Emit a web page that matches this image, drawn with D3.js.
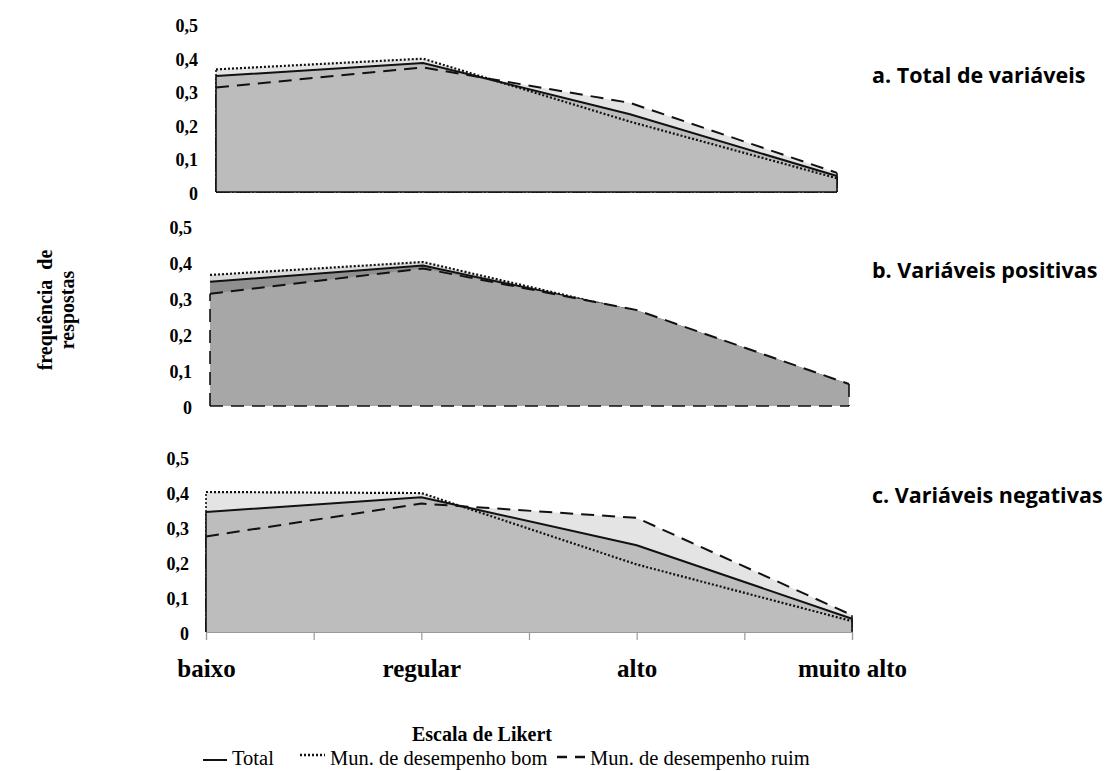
<!DOCTYPE html>
<html>
<head>
<meta charset="utf-8">
<script src="https://cdn.jsdelivr.net/npm/d3@7"></script>
<style>
  body { margin: 0; background: #fff; }
  svg { display: block; }
  .tick-label { font-family: "Liberation Serif", serif; font-weight: bold; font-size: 18px; fill: #000; }
  .cat-label { font-family: "Liberation Serif", serif; font-weight: bold; font-size: 25px; fill: #000; }
  .panel-title { font-family: "Open Sans", sans-serif; font-weight: bold; font-size: 21.5px; fill: #000; }
  .axis-title { font-family: "Liberation Serif", serif; font-weight: bold; font-size: 20px; fill: #000; }
  .legend-text { font-family: "Liberation Serif", serif; font-size: 20.5px; fill: #000; }
</style>
</head>
<body>
<div id="chart"></div>
<script>
const categories = ["baixo", "regular", "alto", "muito alto"];
const yTicks = [0, 0.1, 0.2, 0.3, 0.4, 0.5];
const panelTitles = ["a. Total de variáveis", "b. Variáveis positivas", "c. Variáveis negativas"];
const seriesNames = ["Total", "Mun. de desempenho bom", "Mun. de desempenho ruim"];

// values, one array per panel and series
const totalA = [0.346, 0.385, 0.232, 0.048];
const bomA = [0.366, 0.398, 0.21, 0.041];
const ruimA = [0.312, 0.372, 0.266, 0.057];

const totalB = [0.345, 0.39, 0.263, 0.058];
const bomB = [0.364, 0.4, 0.262, 0.057];
const ruimB = [0.312, 0.382, 0.267, 0.061];

const totalC = [0.343, 0.385, 0.248, 0.038];
const bomC = [0.4, 0.397, 0.193, 0.031];
const ruimC = [0.273, 0.367, 0.326, 0.048];

const W = 1114, H = 771;

const styles = {
  Total: { dash: null, width: 2 },
  "Mun. de desempenho bom": { dash: "2,2", width: 2.2 },
  "Mun. de desempenho ruim": { dash: "13,8", width: 2 },
};

// layout per panel: x range, y baseline, pixels per unit, label x, draw order and fills
const panels = [
  {
    title: panelTitles[0], x0: 216, x1: 837, base: 192, unit: 335, labelX: 198, titleY: 83,
    data: { Total: totalA, "Mun. de desempenho bom": bomA, "Mun. de desempenho ruim": ruimA },
    layers: [
      { name: "Mun. de desempenho bom", fill: "#e4e4e4", edges: true },
      { name: "Mun. de desempenho ruim", fill: "#e4e4e4", edges: true },
      { name: "Total", fill: "#bcbcbc", edges: true },
    ],
    bottom: true,
    linesOnTop: true,
  },
  {
    title: panelTitles[1], x0: 210, x1: 849, base: 406, unit: 360, labelX: 192, titleY: 278,
    data: { Total: totalB, "Mun. de desempenho bom": bomB, "Mun. de desempenho ruim": ruimB },
    layers: [
      { name: "Mun. de desempenho bom", fill: "#dadada", edges: false },
      { name: "Total", fill: "#8f8f8f", edges: false },
      { name: "Mun. de desempenho ruim", fill: "#a7a7a7", edges: true },
    ],
    bottom: true,
    linesOnTop: false,
  },
  {
    title: panelTitles[2], x0: 206, x1: 852, base: 632, unit: 350, labelX: 189, titleY: 503,
    data: { Total: totalC, "Mun. de desempenho bom": bomC, "Mun. de desempenho ruim": ruimC },
    layers: [
      { name: "Mun. de desempenho bom", fill: "#e4e4e4", edges: true },
      { name: "Mun. de desempenho ruim", fill: "#e4e4e4", edges: true },
      { name: "Total", fill: "#bdbdbd", edges: true },
    ],
    bottom: false,
    linesOnTop: true,
    axis: true,
  },
];

const svg = d3.select("#chart").append("svg").attr("width", W).attr("height", H);
const fmt = (d) => (d === 0 ? "0" : d3.format(".1f")(d).replace(".", ","));

panels.forEach((p) => {
  const x = d3.scaleLinear().domain([0, categories.length - 1]).range([p.x0, p.x1]);
  const y = d3.scaleLinear().domain([0, 0.5]).range([p.base, p.base - 0.5 * p.unit]);
  const g = svg.append("g");

  const area = d3.area().x((d, i) => x(i)).y0(y(0)).y1((d) => y(d));
  const line = d3.line().x((d, i) => x(i)).y((d) => y(d));

  const drawLine = (name) => {
    g.append("path")
      .attr("d", line(p.data[name]))
      .attr("fill", "none")
      .attr("stroke", "#111")
      .attr("stroke-width", styles[name].width)
      .attr("stroke-dasharray", styles[name].dash);
  };

  const drawEdges = (name) => {
    const vals = p.data[name];
    const n = vals.length - 1;
    const segs = [
      [[x(0), y(0)], [x(0), y(vals[0])]],
      [[x(n), y(vals[n])], [x(n), y(0)]],
    ];
    if (p.bottom) segs.push([[x(0), y(0)], [x(n), y(0)]]);
    segs.forEach((s) => {
      g.append("path")
        .attr("d", d3.line()(s))
        .attr("fill", "none")
        .attr("stroke", "#111")
        .attr("stroke-width", 1.6)
        .attr("stroke-dasharray", styles[name].dash);
    });
  };

  p.layers.forEach((l) => {
    g.append("path").attr("d", area(p.data[l.name])).attr("fill", l.fill);
    if (l.edges) drawEdges(l.name);
    if (!p.linesOnTop) drawLine(l.name);
  });

  if (p.linesOnTop) {
    ["Mun. de desempenho bom", "Mun. de desempenho ruim", "Total"].forEach(drawLine);
  }

  // y labels
  const yAxis = g.append("g")
    .attr("transform", `translate(${p.labelX},0)`)
    .call(d3.axisLeft(y).tickValues(yTicks).tickSize(0).tickPadding(0).tickFormat(fmt));
  yAxis.select(".domain").remove();
  yAxis.selectAll("text").attr("class", "tick-label").attr("dy", "0.4em").attr("font-family", null).attr("font-size", null);

  g.append("text")
    .attr("class", "panel-title")
    .attr("x", 872)
    .attr("y", p.titleY)
    .text(p.title);

  if (p.axis) {
    const xAxis = g.append("g")
      .attr("transform", `translate(0,${p.base})`)
      .call(
        d3.axisBottom(x)
          .tickValues(d3.range(0, categories.length - 0.99, 0.5))
          .tickSize(8)
          .tickPadding(14)
          .tickFormat((d) => (Number.isInteger(d) ? categories[d] : ""))
      );
    xAxis.select(".domain").attr("stroke", "#9a9a9a").attr("stroke-width", 1.2);
    xAxis.selectAll(".tick line").attr("stroke", "#9a9a9a").attr("stroke-width", 1.2);
    xAxis.selectAll("text").attr("class", "cat-label").attr("font-family", null).attr("font-size", null).attr("dy", "0.9em");
  }
});

// y axis title
const yTitle = svg.append("text")
  .attr("class", "axis-title")
  .attr("transform", "translate(52,310) rotate(-90)")
  .attr("text-anchor", "middle");
yTitle.append("tspan").attr("x", 0).attr("y", 0).style("white-space", "pre").text("frequência  de");
yTitle.append("tspan").attr("x", 0).attr("y", 22).text("respostas");

svg.append("text")
  .attr("class", "axis-title")
  .attr("x", 482)
  .attr("y", 741)
  .attr("text-anchor", "middle")
  .text("Escala de Likert");

// legend
const legendItems = [
  { name: seriesNames[0], x1: 203, x2: 227, tx: 232, y: 765, lineY: 760 },
  { name: seriesNames[1], x1: 300, x2: 325, tx: 330, y: 765, lineY: 755 },
  { name: seriesNames[2], x1: 557, x2: 585, tx: 590, y: 765, lineY: 757 },
];
const legend = svg.append("g");
legendItems.forEach((d) => {
  legend.append("line")
    .attr("x1", d.x1).attr("x2", d.x2)
    .attr("y1", d.lineY).attr("y2", d.lineY)
    .attr("stroke", "#111")
    .attr("stroke-width", d.name === "Total" ? 2 : 2.4)
    .attr("stroke-dasharray", d.name === "Total" ? null : d.name === seriesNames[1] ? "2,2" : "10,8");
  legend.append("text").attr("class", "legend-text").attr("x", d.tx).attr("y", d.y).text(d.name);
});
</script>
</body>
</html>
